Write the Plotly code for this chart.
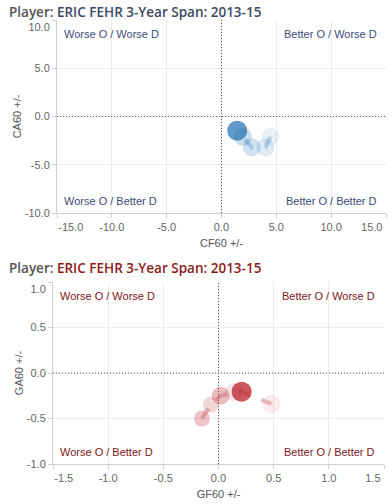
import plotly.graph_objects as go

# ---- data ----
cf60 = [4.47, 4.0, 2.77, 1.95, 1.43]
ca60 = [-2.1, -3.2, -3.2, -2.1, -1.47]
alpha_top = [0.15, 0.2, 0.3, 0.35, 1.0]
size_top = [18, 18, 18, 18, 20]

gf60 = [-0.15, -0.07, 0.02, 0.14, 0.21, 0.48]
ga60 = [-0.50, -0.35, -0.25, -0.21, -0.205, -0.34]
alpha_bot = [0.35, 0.25, 0.4, 0.15, 1.0, 0.12]
size_bot = [16, 16, 18, 18, 20, 18]

x_ticks_top = [-15, -10, -5, 0, 5, 10, 15]
x_text_top = ["&nbsp;" * 9 + "-15.0", "-10.0", "-5.0", "0.0", "5.0", "10.0", ""]
x_edge_top = [15]
x_edge_text_top = ["15.0"]
y_ticks_top = [-10, -5, 0, 5, 10]
y_text_top = ["-10.0", "-5.0", "0.0", "5.0", "<br>10.0"]

x_ticks_bot = [-1.5, -1.0, -0.5, 0, 0.5, 1.0, 1.5]
x_text_bot = ["&nbsp;" * 7 + "-1.5", "-1.0", "-0.5", "0.0", "0.5", "1.0", ""]
x_edge_bot = [1.5]
x_edge_text_bot = ["1.5"]
y_ticks_bot = [-1.0, -0.5, 0, 0.5, 1.0]
y_text_bot = ["-1.0", "-0.5", "0.0", "0.5", "<br>1.0"]

quad_labels = ["Worse O / Worse D", "Better O / Worse D",
               "Worse O / Better D", "Better O / Better D"]

BLUE = (31, 111, 178)
RED = (181, 16, 30)
BLUE_TXT = "#3d4c78"
RED_TXT = "#7d1616"
TICK = "#666666"
FONT = "Liberation Sans, Arial, sans-serif"


def rgba(c, a):
    return f"rgba({c[0]},{c[1]},{c[2]},{a})"


W, H = 392, 504
fig = go.Figure()

# top chart
fig.add_trace(go.Scatter(x=cf60, y=ca60, mode="lines",
                         line=dict(color=rgba(BLUE, 0.25), width=4, dash="dash"),
                         xaxis="x", yaxis="y", hoverinfo="skip", showlegend=False))
fig.add_trace(go.Scatter(x=cf60, y=ca60, mode="markers",
                         marker=dict(color=[rgba(BLUE, a) for a in alpha_top],
                                     size=size_top, line=dict(width=0)),
                         xaxis="x", yaxis="y", showlegend=False))
# bottom chart
fig.add_trace(go.Scatter(x=gf60, y=ga60, mode="lines",
                         line=dict(color=rgba(RED, 0.25), width=4, dash="dash"),
                         xaxis="x2", yaxis="y2", hoverinfo="skip", showlegend=False))
fig.add_trace(go.Scatter(x=gf60, y=ga60, mode="markers",
                         marker=dict(color=[rgba(RED, a) for a in alpha_bot],
                                     size=size_bot, line=dict(width=0)),
                         xaxis="x2", yaxis="y2", showlegend=False))
# empty traces so the edge-label overlay axes get drawn
fig.add_trace(go.Scatter(x=[None], y=[None], mode="markers", xaxis="x3", yaxis="y",
                         hoverinfo="skip", showlegend=False))
fig.add_trace(go.Scatter(x=[None], y=[None], mode="markers", xaxis="x4", yaxis="y2",
                         hoverinfo="skip", showlegend=False))


def px_dom_x(a, b):
    return [a / W, b / W]


def px_dom_y(top, bot):
    return [(H - bot) / H, (H - top) / H]


axis_common = dict(showline=True, linecolor="#cfcfcf", linewidth=1,
                   ticks="outside", ticklen=4, tickcolor="#cfcfcf",
                   showgrid=True, gridcolor="#ececec", gridwidth=1,
                   zeroline=False, automargin=False, ticklabeloverflow="allow",
                   tickfont=dict(family=FONT, size=11, color=TICK),
                   title_font=dict(family=FONT, size=11, color="#555555"))

edge_common = dict(showline=False, showgrid=False, zeroline=False, automargin=False,
                   ticks="outside", ticklen=4, tickcolor="rgba(0,0,0,0)",
                   ticklabelposition="outside left", ticklabeloverflow="allow",
                   ticklabelstandoff=4, ticklabelshift=-3,
                   tickfont=dict(family=FONT, size=11, color=TICK))

dom_x_top = px_dom_x(57, 386)
dom_x_bot = px_dom_x(53, 384)

fig.update_layout(
    template="none",
    width=W, height=H, margin=dict(l=0, r=0, t=0, b=0),
    paper_bgcolor="white", plot_bgcolor="white",
    xaxis=dict(domain=dom_x_top, range=[-15, 15], tickvals=x_ticks_top,
               ticktext=x_text_top, anchor="y",
               title=dict(text="CF60 +/-", standoff=7), **axis_common),
    yaxis=dict(domain=px_dom_y(20, 213), range=[-10, 10], tickvals=y_ticks_top,
               ticktext=y_text_top, anchor="x",
               title=dict(text="CA60 +/-", standoff=0), **axis_common),
    xaxis2=dict(domain=dom_x_bot, range=[-1.5, 1.5], tickvals=x_ticks_bot,
                ticktext=x_text_bot, anchor="y2",
                title=dict(text="GF60 +/-", standoff=7), **axis_common),
    yaxis2=dict(domain=px_dom_y(282, 464), range=[-1, 1], tickvals=y_ticks_bot,
                ticktext=y_text_bot, anchor="x2",
                title=dict(text="GA60 +/-", standoff=0), **axis_common),
    xaxis3=dict(domain=dom_x_top, range=[-15, 15], overlaying="x", anchor="y",
                side="bottom", tickvals=x_edge_top, ticktext=x_edge_text_top,
                **edge_common),
    xaxis4=dict(domain=dom_x_bot, range=[-1.5, 1.5], overlaying="x2", anchor="y2",
                side="bottom", tickvals=x_edge_bot, ticktext=x_edge_text_bot,
                **edge_common),
)

# dotted reference lines at zero
for xr, yr in (("x", "y"), ("x2", "y2")):
    fig.add_shape(type="line", xref=xr, yref=f"{yr} domain", x0=0, x1=0, y0=0, y1=1,
                  line=dict(color="#555555", width=1, dash="1px,2px"))
    fig.add_shape(type="line", xref=f"{xr} domain", yref=yr, x0=0, x1=1, y0=0, y1=0,
                  line=dict(color="#555555", width=1, dash="1px,2px"))

# quadrant labels
for xr, yr, col in (("x", "y", BLUE_TXT), ("x2", "y2", RED_TXT)):
    pos = [(0, 1, "left", "top", 5, -6), (1, 1, "right", "top", -7, -6),
           (0, 0, "left", "bottom", 5, 4), (1, 0, "right", "bottom", -7, 4)]
    for lab, (x, y, xa, ya, xs, ys) in zip(quad_labels, pos):
        fig.add_annotation(text=lab, xref=f"{xr} domain", yref=f"{yr} domain",
                           x=x, y=y, xanchor=xa, yanchor=ya, xshift=xs, yshift=ys,
                           showarrow=False,
                           font=dict(family=FONT, size=11, color=col))

# titles
TFONT = "Open Sans, sans-serif"
for ytop, col in ((12, "#3b4a66"), (268, "#8b1a1a")):
    fig.add_annotation(
        text=f"<span style='color:#555555'>Player: </span>"
             f"<span style='color:{col}'>ERIC FEHR 3-Year Span: 2013-15</span>",
        xref="paper", yref="paper", x=7 / W, y=(H - ytop) / H,
        xanchor="left", yanchor="middle", showarrow=False,
        font=dict(family=TFONT, size=13.5, color=col, weight=600))

fig.write_html("out.html", config={"displayModeBar": False},
               post_script="document.body.style.margin='0';document.body.style.overflow='hidden';")
